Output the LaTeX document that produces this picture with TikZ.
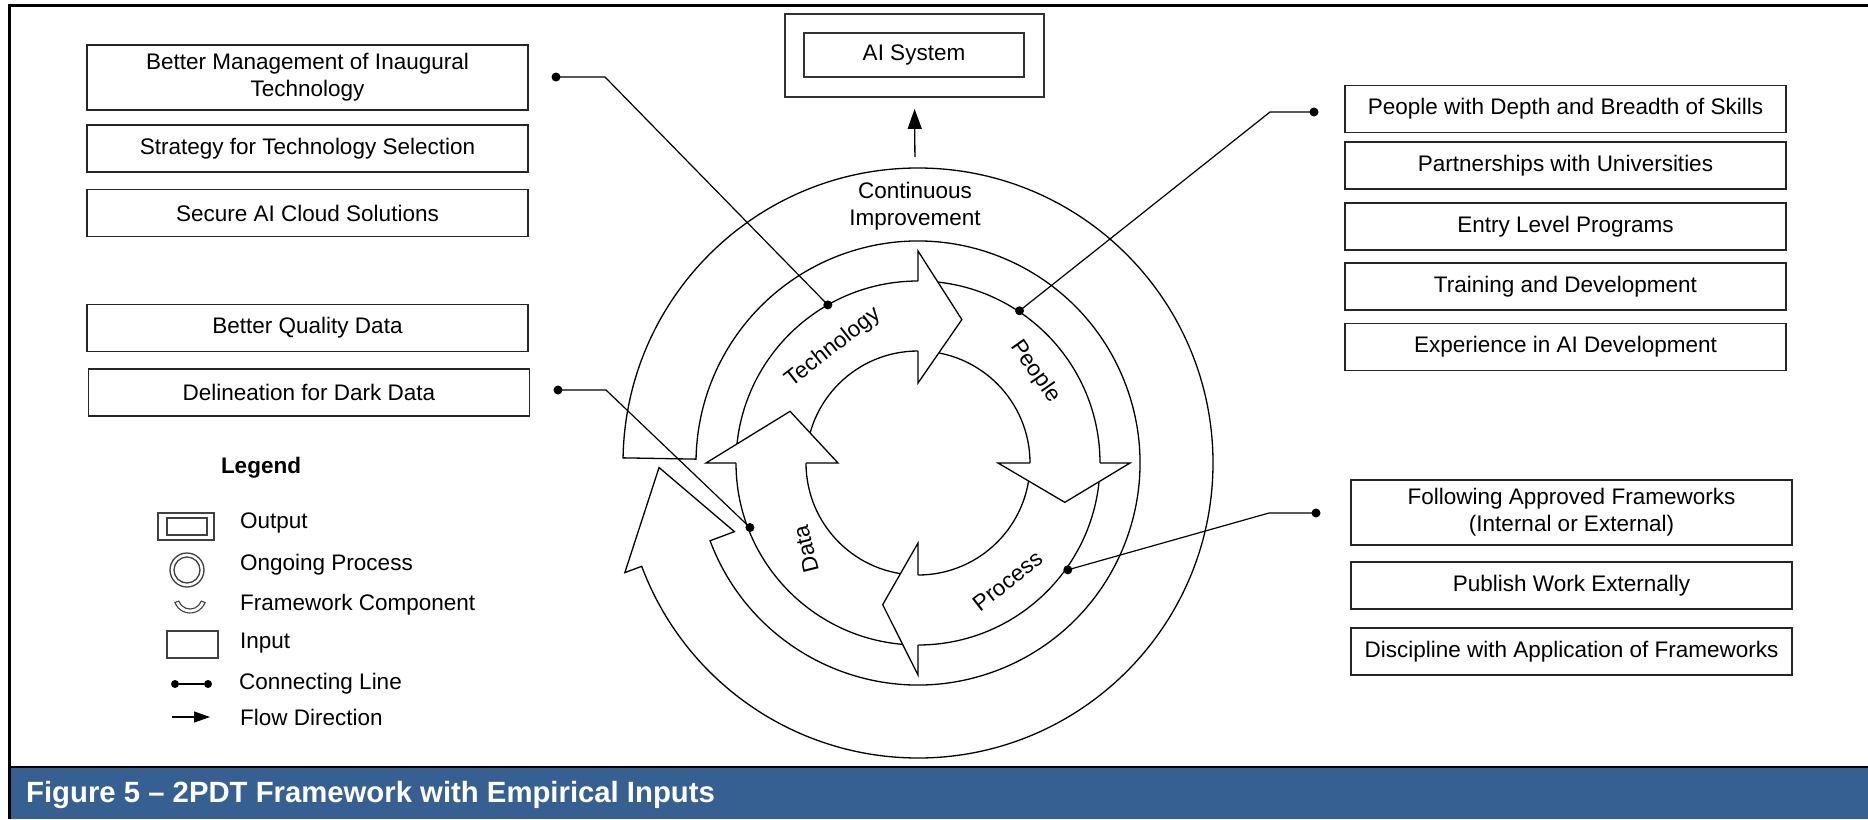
\documentclass[tikz,border=0pt]{standalone}
\usepackage{fontspec}
\setmainfont{Liberation Sans}
\usetikzlibrary{arrows.meta}
\newcommand{\boxfont}{\fontsize{22.5}{27}\selectfont}
\newcommand{\capfont}{\fontsize{29.3}{32}\selectfont\bfseries}
\definecolor{capblue}{HTML}{366092}
\tikzset{
  inbox/.style={draw=black!85, line width=1.6pt, minimum width=441pt, minimum height=47pt,
    align=center, font=\boxfont, inner sep=0pt},
  ring/.style={line width=1.3pt},
  dot/.style={circle, fill, inner sep=0pt, minimum size=9pt},
  link/.style={line width=1.2pt},
  lgd/.style={anchor=west, font=\boxfont, inner sep=0pt},
  icon/.style={line width=1.3pt, draw=black!75},
}

\begin{document}
\begin{tikzpicture}[x=1pt,y=-1pt]
\useasboundingbox (0,0) rectangle (1868,819);
\fill[capblue] (9.5,768) rectangle (1868,819);
\draw[line width=2.5pt] (1868,5.5) -- (9.5,5.5) -- (9.5,819);
\draw[line width=2.5pt] (9.5,767) -- (1868,767);
\node[anchor=base west, text=white, font=\capfont, inner sep=0pt] (cap) at (26,802)
  {Figure 5 – 2PDT Framework with Empirical Inputs};

\node[inbox, minimum height=65pt] (mgmt) at (307.5,77.5) {Better Management of Inaugural\\Technology};
\node[inbox] (select) at (307.5,148.5) {Strategy for Technology Selection};
\node[inbox] (cloud) at (307.5,213) {Secure AI Cloud Solutions};
\node[inbox] (quality) at (307.5,328) {Better Quality Data};
\node[inbox] (dark) at (309,392.5) {Delineation for Dark Data};

\node[inbox] (skills) at (1565.5,109) {People with Depth and Breadth of Skills};
\node[inbox] (univ) at (1565.5,165.5) {Partnerships with Universities};
\node[inbox] (entry) at (1565.5,226.5) {Entry Level Programs};
\node[inbox] (train) at (1565.5,286.5) {Training and Development};
\node[inbox] (exper) at (1565.5,347) {Experience in AI Development};
\node[inbox, minimum height=65pt] (approved) at (1571.5,512.5) {Following Approved Frameworks\\(Internal or External)};
\node[inbox] (publish) at (1571.5,585.5) {Publish Work Externally};
\node[inbox] (discip) at (1571.5,651.5) {Discipline with Application of Frameworks};

\node[draw=black!80, line width=1.5pt, minimum width=220pt, minimum height=44pt,
  font=\boxfont, inner sep=0pt] (ai) at (914,55) {AI System};
\node[draw=black!80, line width=1.8pt, minimum width=259pt, minimum height=83pt,
  inner sep=0pt] (aiframe) at (914.5,55.5) {};

\coordinate (c) at (918,463);
\begin{scope}[shift={(c)}]
  \filldraw[ring, fill=white] (181:295) arc[start angle=181, end angle=519.5, radius=295]
    -- (519.5:313) -- (539:259) -- (519.5:196) -- (519.5:222)
    arc[start angle=519.5, end angle=181, radius=222] -- cycle;
  \draw[ring] (0,0) circle[radius=182] (0,0) circle[radius=112];
  \foreach \base/\tip/\rad in {270/287/150, 0/15/152, 90/104/146, 180/202/138}
    \filldraw[ring, fill=white] (\base:182) -- (\base:212) -- (\tip:\rad) -- (\base:80) -- (\base:112);
  \node[rotate=38, font=\boxfont] (tech) at (-85,-115.5) {Technology};
  \node[rotate=-55, font=\boxfont] (people) at (117,-91.5) {People};
  \node[rotate=38, font=\boxfont] (process) at (89.5,118) {Process};
  \node[rotate=104, font=\boxfont] (data) at (-112,86) {Data};
  \node[dot] (techdot) at (240.3:182) {};
  \node[dot] (peopledot) at (303.7:183) {};
  \node[dot] (datadot) at (159:180) {};
  \node[dot] (procdot) at (35.5:184) {};
\end{scope}
\node[align=center, font=\boxfont] (ci) at (915,206.5) {Continuous\\Improvement};

\coordinate (ringtop) at (915,168);
\draw[ring, -{Triangle[length=20pt,width=14pt]}, shorten <=11pt, shorten >=11pt] (ringtop) -- (aiframe.south);

\node[dot] (techin) at (556,77) {};
\draw[link] (techin.center) -- (605,77) -- (techdot.center);
\node[dot] (darkin) at (558,390) {};
\draw[link] (darkin.center) -- (606,390) -- (datadot.center);
\node[dot] (skillsin) at (1314,112) {};
\draw[link] (skillsin.center) -- (1270,112) -- (peopledot.center);
\node[dot] (approvedin) at (1316,513) {};
\draw[link] (approvedin.center) -- (1269,513) -- (procdot.center);

\node[font=\boxfont\bfseries] (legend) at (261,468) {Legend};
\draw[icon] (158,513) rectangle (214,540) (167,518) rectangle (207,535);
\node[lgd] (lout) at (240,523) {Output};
\draw[icon] (187,570) circle[radius=17] (187,570) circle[radius=13];
\node[lgd] (lproc) at (240,565) {Ongoing Process};
\begin{scope}[shift={(190,597)}]
  \draw[icon, line width=1.1pt] (160:16) arc[start angle=160, end angle=20, radius=16]
    -- (20:12) arc[start angle=20, end angle=160, radius=12] -- cycle;
\end{scope}
\node[lgd] (lcomp) at (240,605) {Framework Component};
\draw[icon] (167,631) rectangle (218,658);
\node[lgd] (lin) at (240,643) {Input};
\node[dot, minimum size=8pt] (la) at (175,684) {};
\node[dot, minimum size=8pt] (lb) at (208,684) {};
\draw[link] (la) -- (lb);
\node[lgd] (lline) at (239,684) {Connecting Line};
\coordinate (fa) at (172,717);
\coordinate (fb) at (210,717);
\draw[link, -{Triangle[length=16pt,width=11pt]}] (fa) -- (fb);
\node[lgd] (lflow) at (240,717) {Flow Direction};
\end{tikzpicture}
\end{document}
